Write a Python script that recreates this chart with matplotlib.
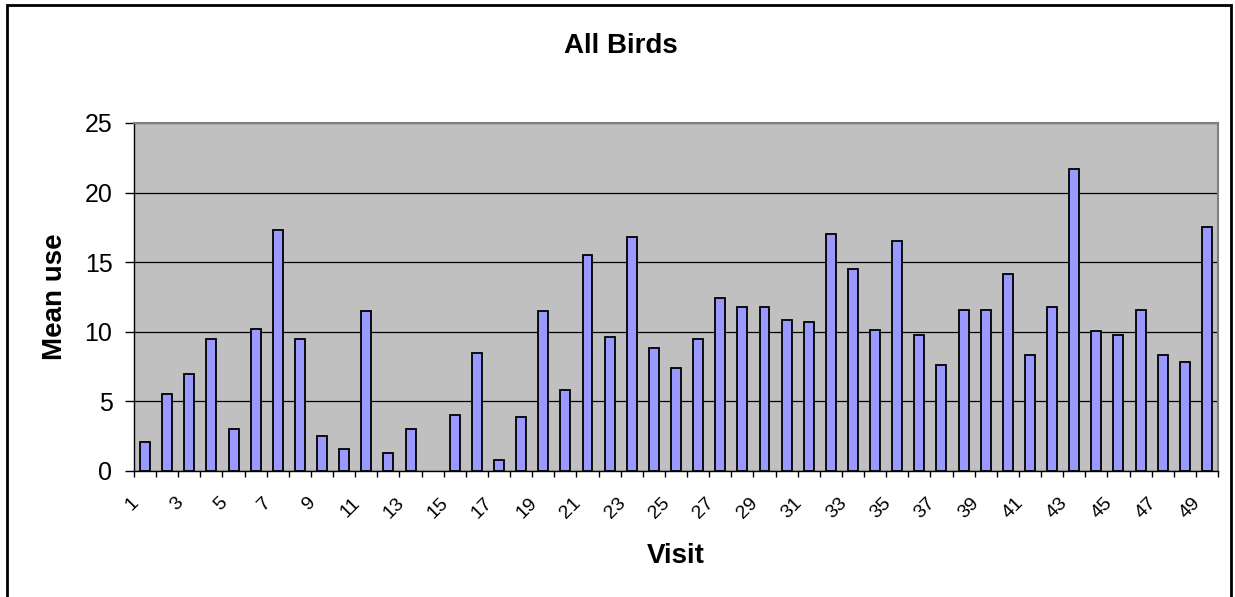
import numpy as np
import matplotlib
matplotlib.use('Agg')
import matplotlib.pyplot as plt
import matplotlib.transforms as mtransforms
from matplotlib.patches import Rectangle

plt.rcParams['font.family'] = ['Liberation Sans', 'DejaVu Sans']

# mean use per visit (visit 14 has no bar)
visits = list(range(1, 50))
mean_use = [2.1, 5.55, 7.0, 9.5, 3.0, 10.2, 17.3, 9.5, 2.5, 1.6,
            11.5, 1.3, 3.0, 0.0, 4.0, 8.45, 0.8, 3.85, 11.5, 5.8,
            15.5, 9.65, 16.8, 8.85, 7.4, 9.5, 12.4, 11.75, 11.75, 10.85,
            10.7, 17.05, 14.5, 10.15, 16.5, 9.8, 7.65, 11.6, 11.6, 14.15,
            8.3, 11.75, 21.7, 10.05, 9.8, 11.6, 8.3, 7.8, 17.5]
yticks = [0, 5, 10, 15, 20, 25]

W, H = 1235, 597
fig = plt.figure(figsize=(W / 100, H / 100), dpi=100)
ax = fig.add_axes([134 / W, 1 - 471 / H, (1218 - 134) / W, (471 - 123) / H])

ax.set_facecolor('#C0C0C0')
bars = ax.bar(visits, mean_use, width=0.45, color='#9999FF', edgecolor='black', linewidth=1.3, zorder=3)
for b, v in zip(bars, mean_use):
    if v == 0:
        b.set_visible(False)

ax.set_xlim(0.5, len(visits) + 0.5)
ax.set_ylim(0, 25)
ax.set_yticks(yticks)
ax.yaxis.grid(True, color='black', linewidth=0.9, zorder=1)
ax.set_axisbelow(True)

# tick marks between categories, labels on odd visits
ax.set_xticks(np.arange(0.5, len(visits) + 1, 1.0))
ax.set_xticklabels([])
odd = [v for v in visits if v % 2 == 1]
ax.set_xticks(odd, minor=True)
ax.set_xticklabels([str(v) for v in odd], minor=True, rotation=45,
                   ha='right', va='center', rotation_mode='anchor', fontsize=14)
ax.tick_params(axis='x', which='major', length=4.5, width=1, direction='out')
ax.tick_params(axis='x', which='minor', length=0, pad=21)
ax.tick_params(axis='y', length=6.5, width=1, labelsize=18, pad=9)
off = mtransforms.ScaledTranslation(-9 / 100, 0, fig.dpi_scale_trans)
for lab in ax.xaxis.get_minorticklabels():
    lab.set_transform(lab.get_transform() + off)

for s in ['top', 'right']:
    ax.spines[s].set_color('#808080')
    ax.spines[s].set_linewidth(1.5)
for s in ['left', 'bottom']:
    ax.spines[s].set_color('black')
    ax.spines[s].set_linewidth(1)

ax.set_ylabel('Mean use', fontsize=20, fontweight='bold')
ax.yaxis.set_label_coords((62 - 134) / 1084, 0.5)
ax.yaxis.label.set_va('baseline')
ax.set_xlabel('Visit', fontsize=20, fontweight='bold')
ax.xaxis.set_label_coords(0.5, (471 - 563) / 348)
ax.xaxis.label.set_va('baseline')

fig.text(621 / W, 1 - 52.7 / H, 'All Birds', ha='center', va='baseline',
         fontsize=20, fontweight='bold')

fig.add_artist(Rectangle((7 / W, -0.02), (1231 - 7) / W, 1 - 5 / H + 0.02,
                         transform=fig.transFigure, fill=False,
                         edgecolor='black', linewidth=2))

fig.savefig('out.png', dpi=100)
